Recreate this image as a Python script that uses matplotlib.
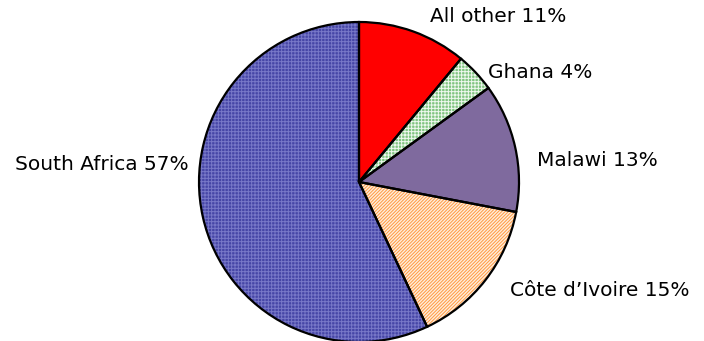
import matplotlib
matplotlib.use("Agg")
import matplotlib.pyplot as plt

categories = ["All other", "Ghana", "Malawi", "Côte d\u2019Ivoire", "South Africa"]
shares = [11, 4, 13, 15, 57]

face_colors = ["#ff0000", "#80c480", "#7f6a9e", "#ffeedd", "#4646a6"]
hatch_colors = ["#ff0000", "#eef8ee", "#7f6a9e", "#ff9a40", "#7878c8"]
hatches = [None, "+++++", None, "//////////", "+++++"]

# label layout (pixel positions in figure, x, y from top, alignment)
label_pos = [(430, 17, "left"), (488, 72, "left"), (537, 160, "left"),
             (510, 290, "left"), (189, 165, "right")]

W, H = 704, 341
fig = plt.figure(figsize=(W / 100, H / 100), dpi=100)
ax = fig.add_axes([0, 0, 1, 1])

center = (359, H - 182)
radius = 160

plt.rcParams["hatch.linewidth"] = 0.7
wedges, _ = ax.pie(shares, colors=face_colors, startangle=90, counterclock=False,
                   center=center, radius=radius, frame=True,
                   wedgeprops=dict(linewidth=0))
for w, hc, h in zip(wedges, hatch_colors, hatches):
    w.set_edgecolor(hc)
    if h:
        w.set_hatch(h)
# outlines
ax.pie(shares, colors=face_colors, startangle=90, counterclock=False,
       center=center, radius=radius, frame=True,
       wedgeprops=dict(linewidth=1.6, edgecolor="black", fill=False))
ax.set_xlim(0, W)
ax.set_ylim(0, H)
ax.set_aspect("auto")
ax.axis("off")

for cat, s, (x, y, ha) in zip(categories, shares, label_pos):
    ax.text(x, H - y, f"{cat} {s}%", ha=ha, va="center", fontsize=14.5,
            family="DejaVu Sans", color="black")

fig.savefig("out.png", dpi=100)
